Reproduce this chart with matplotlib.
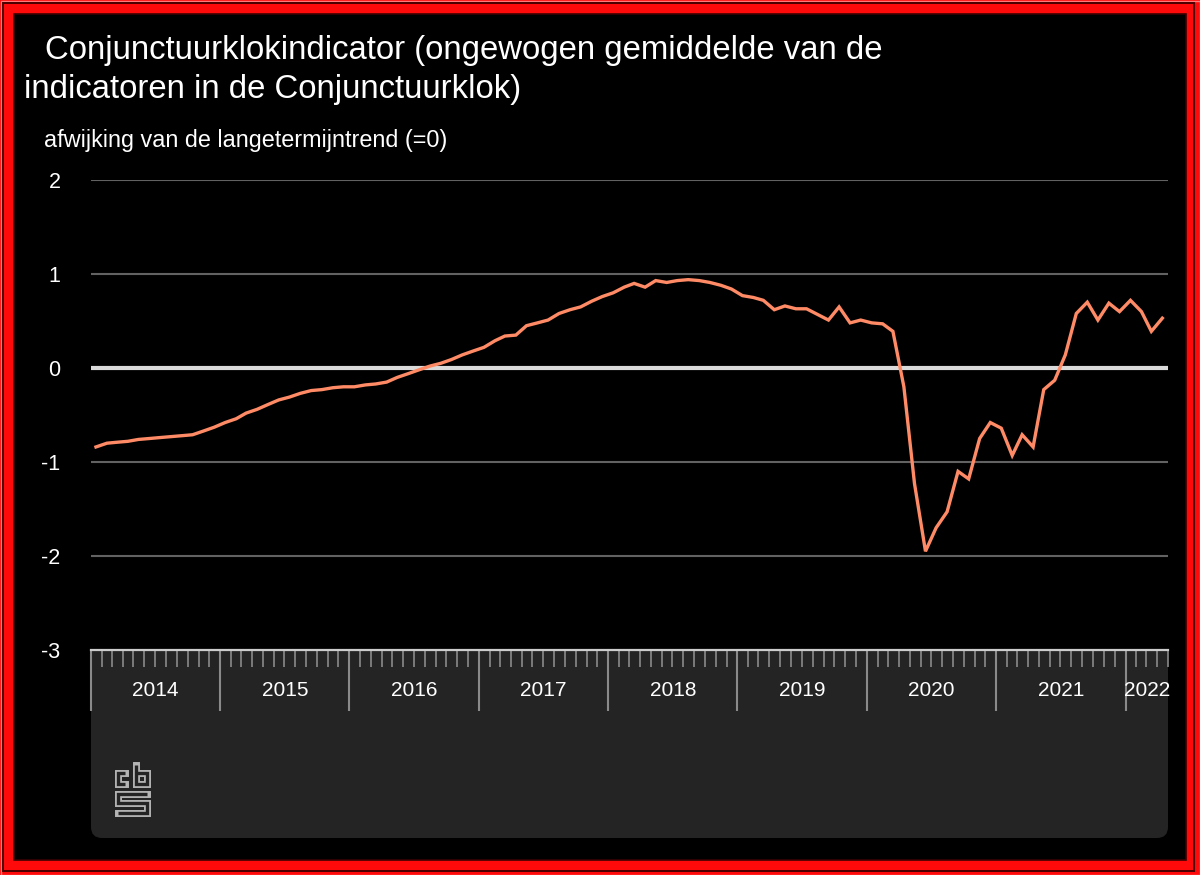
import matplotlib
matplotlib.use("Agg")
import matplotlib.pyplot as plt
import matplotlib.dates as mdates
from matplotlib.patches import Rectangle, FancyBboxPatch
from matplotlib.lines import Line2D
import pandas as pd

# ---------------- data ----------------
start_month = "2014-01-01"
values = [
    # 2014
    -0.84, -0.80, -0.79, -0.78, -0.76, -0.75, -0.74, -0.73, -0.72, -0.71, -0.67, -0.63,
    # 2015
    -0.58, -0.54, -0.48, -0.44, -0.39, -0.34, -0.31, -0.27, -0.24, -0.23, -0.21, -0.20,
    # 2016
    -0.20, -0.18, -0.17, -0.15, -0.10, -0.06, -0.02, 0.02, 0.05, 0.09, 0.14, 0.18,
    # 2017
    0.22, 0.29, 0.34, 0.35, 0.45, 0.48, 0.51, 0.58, 0.62, 0.65, 0.71, 0.76,
    # 2018
    0.80, 0.86, 0.90, 0.86, 0.93, 0.91, 0.93, 0.94, 0.93, 0.91, 0.88, 0.84,
    # 2019
    0.77, 0.75, 0.72, 0.62, 0.66, 0.63, 0.63, 0.57, 0.51, 0.65, 0.48, 0.51,
    # 2020
    0.48, 0.47, 0.39, -0.20, -1.23, -1.95, -1.70, -1.53, -1.10, -1.18, -0.75, -0.58,
    # 2021
    -0.64, -0.93, -0.71, -0.84, -0.23, -0.13, 0.14, 0.58, 0.70, 0.51, 0.69, 0.60,
    # 2022
    0.72, 0.60, 0.39, 0.53,
]
y_ticks = [-3, -2, -1, 0, 1, 2]
years = list(range(2014, 2023))
x_start = "2014-01-01"
x_end = "2022-05-01"

title_line1 = "Conjunctuurklokindicator (ongewogen gemiddelde van de"
title_line2 = "indicatoren in de Conjunctuurklok)"
subtitle = "afwijking van de langetermijntrend (=0)"

# ---------------- style ----------------
W, H = 1200, 875
plt.rcParams["font.family"] = ["Liberation Sans", "DejaVu Sans"]
LINE_C = "#ff8a66"
PANEL_C = "#242424"

fig = plt.figure(figsize=(W / 100, H / 100), dpi=100)
fig.patch.set_facecolor("#ff0a0a")

def P(x, y):
    return (x / 100.0, (H - y) / 100.0)

def prect(x0, y0, x1, y1, **kw):
    r = Rectangle(P(x0, y1), (x1 - x0) / 100.0, (y1 - y0) / 100.0,
                  transform=fig.dpi_scale_trans, **kw)
    fig.add_artist(r)
    return r

# red bevelled frame
prect(0.5, 0.5, 1199.5, 874.5, facecolor="none", edgecolor="#ff7a7a", lw=1.0, zorder=-10)
prect(2.8, 2.8, 1194, 871, facecolor="none", edgecolor="#4a0000", lw=1.4, zorder=-10)
prect(14, 14, 1186, 860, facecolor="black", edgecolor="#3a0000", lw=1.2, zorder=-9)

# gray panel under the axis
panel = FancyBboxPatch(P(91, 838), (1168 - 91) / 100.0, (838 - 651) / 100.0,
                       boxstyle="round,pad=0,rounding_size=0.11",
                       transform=fig.dpi_scale_trans, facecolor=PANEL_C,
                       edgecolor="none", zorder=-8)
fig.add_artist(panel)
prect(91, 651, 1168, 720, facecolor=PANEL_C, edgecolor="none", zorder=-8)

# ---------------- axes ----------------
ax = fig.add_axes([91 / W, 1 - 650 / H, (1168 - 91) / W, (650 - 180) / H])
ax.set_facecolor("black")

dates = pd.date_range(start_month, periods=len(values), freq="MS") + pd.Timedelta(days=14)
ax.plot(dates, values, color=LINE_C, lw=2.4, solid_joinstyle="miter", zorder=5, clip_on=False)

ax.set_ylim(-3, 2)
ax.set_xlim(pd.Timestamp(x_start), pd.Timestamp(x_end))

ax.set_yticks(y_ticks)
ax.set_yticklabels([str(t) for t in y_ticks])
for t in y_ticks:
    if t == 0:
        ax.axhline(t, color="#dadada", lw=3.0, zorder=3)
    elif t != -3:
        ax.axhline(t, color="#626262", lw=1.5, zorder=2)

for s in ["top", "right", "left"]:
    ax.spines[s].set_visible(False)
ax.spines["bottom"].set_color("#cccccc")
ax.spines["bottom"].set_linewidth(1.6)

ax.tick_params(axis="y", length=0, pad=22, labelsize=15.5, labelcolor="white")

ax.xaxis.set_major_locator(mdates.YearLocator())
ax.xaxis.set_minor_locator(mdates.MonthLocator())
ax.xaxis.set_major_formatter(plt.NullFormatter())
ax.tick_params(axis="x", which="major", direction="out", length=44, width=1.5,
               color="#8a8a8a")
ax.tick_params(axis="x", which="minor", direction="out", length=12.5, width=1.2,
               color="#8a8a8a")

# year labels centred in each visible year segment
xmin, xmax = ax.get_xlim()
for yr in years:
    a = max(mdates.date2num(pd.Timestamp(f"{yr}-01-01")), xmin)
    b = min(mdates.date2num(pd.Timestamp(f"{yr + 1}-01-01")), xmax)
    ax.annotate(str(yr), xy=((a + b) / 2, 0), xycoords=("data", "axes fraction"),
                xytext=(0, -29.5), textcoords="offset points",
                ha="center", va="center", color="white", fontsize=15,
                annotation_clip=False)

# ---------------- titles ----------------
fig.text(45 / W, 1 - 59 / H, title_line1, color="white", fontsize=23.7,
         ha="left", va="baseline")
fig.text(24 / W, 1 - 98 / H, title_line2, color="white", fontsize=23.7,
         ha="left", va="baseline")
fig.text(44 / W, 1 - 147 / H, subtitle, color="white", fontsize=16.8,
         ha="left", va="baseline")

# ---------------- cbs logo (outlined strokes) ----------------
logo_paths = [
    [(125, 772.5), (117.5, 772.5), (117.5, 783.5), (125, 783.5)],
    [(135.5, 764.5), (135.5, 783.5), (146.5, 783.5), (146.5, 772.5), (135.5, 772.5)],
    [(146.5, 793.5), (117.5, 793.5), (117.5, 803), (146.5, 803), (146.5, 812.5), (117.5, 812.5)],
]
for path in logo_paths:
    xs = [p[0] / 100.0 for p in path]
    ys = [(H - p[1]) / 100.0 for p in path]
    fig.add_artist(Line2D(xs, ys, transform=fig.dpi_scale_trans, color="#b5b5b5",
                          lw=5.0, solid_capstyle="projecting", solid_joinstyle="miter",
                          zorder=2))
    fig.add_artist(Line2D(xs, ys, transform=fig.dpi_scale_trans, color=PANEL_C,
                          lw=2.4, solid_capstyle="butt", solid_joinstyle="miter",
                          zorder=3))

fig.savefig("out.png", dpi=100, facecolor=fig.get_facecolor())
